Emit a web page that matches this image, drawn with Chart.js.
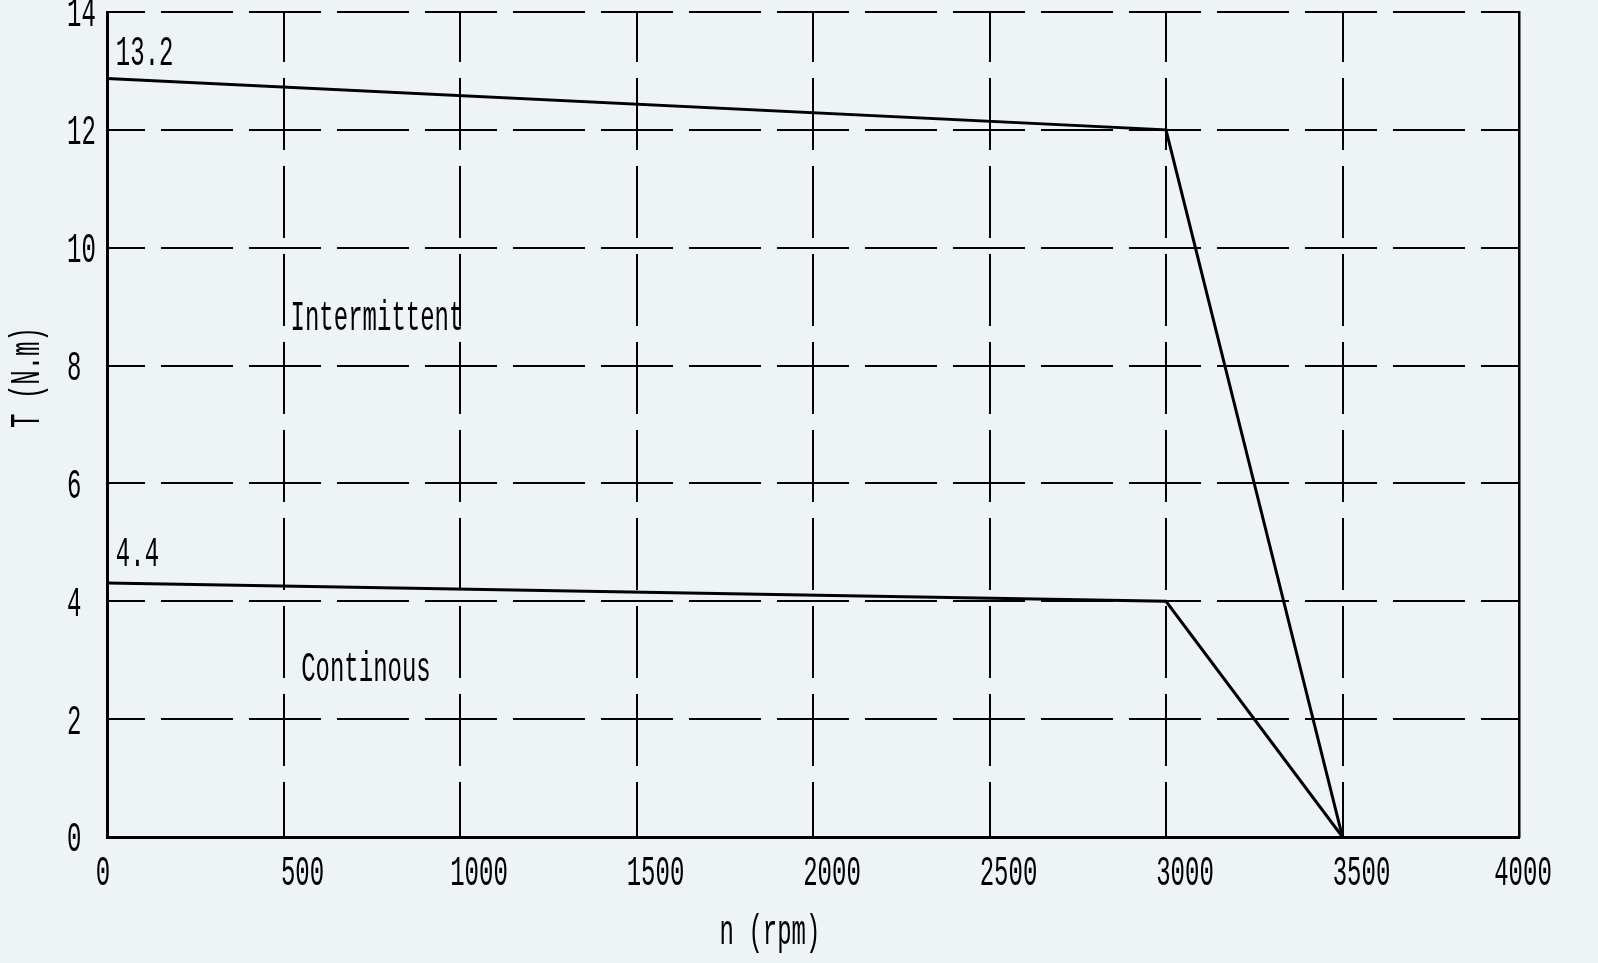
<!DOCTYPE html>
<html>
<head>
<meta charset="utf-8">
<title>T-n curve</title>
<script src="https://cdn.jsdelivr.net/npm/chart.js@4.4.1/dist/chart.umd.min.js"></script>
<style>
  html, body { margin: 0; padding: 0; background: #eef3f6; }
  #wrap { position: relative; width: 1598px; height: 963px; }
</style>
</head>
<body>
<div id="wrap"><canvas id="my-chart"></canvas></div>
<script>
'use strict';

//***********Data***********
let rpmPoints = [0, 3000, 3500];
let intermittentTorque = [12.87, 12, 0];
let continuousTorque = [4.31, 4, 0];

let xTicks = [0, 500, 1000, 1500, 2000, 2500, 3000, 3500, 4000];
let yTicks = [0, 2, 4, 6, 8, 10, 12, 14];

let xTitle = 'n (rpm)';
let yTitle = 'T (N.m)';

// notes written inside the plot, placed in data units
let noteText = ['13.2', '4.4', 'Intermittent', 'Continous'];
let noteRpm = [25, 25, 520, 550];
let noteTorque = [13.35, 4.84, 8.85, 2.89];

//***********Text helpers***********
// the original font is a tall, narrow half-width serif, so stretch a mono font upward
const FONT = '24px "Liberation Mono", "DejaVu Sans Mono", monospace';
const STRETCH = 1.8;

function tallText(ctx, str, x, y, align, rotate) {
  ctx.save();
  ctx.translate(x, y);
  if (rotate) ctx.rotate(-Math.PI / 2);
  ctx.scale(1, STRETCH);
  ctx.font = FONT;
  ctx.fillStyle = '#000';
  ctx.textAlign = align;
  ctx.textBaseline = 'alphabetic';
  ctx.fillText(str, 0, 8); // 8 = half the digit height, keeps y as the centre
  ctx.restore();
}

let textPlugin = {
  id: 'tallText',
  afterDraw(chart) {
    let ctx = chart.ctx;
    let xs = chart.scales.x;
    let ys = chart.scales.y;
    let area = chart.chartArea;

    for (let i = 0; i < yTicks.length; i++) {
      tallText(ctx, String(yTicks[i]), area.left - 40, ys.getPixelForValue(yTicks[i]), 'left');
    }
    for (let i = 0; i < xTicks.length; i++) {
      let shift = 19;
      if (i === 0) shift = -4;
      if (i === xTicks.length - 1) shift = 4;
      tallText(ctx, String(xTicks[i]), xs.getPixelForValue(xTicks[i]) + shift, area.bottom + 34, 'center');
    }
    tallText(ctx, xTitle, (area.left + area.right) / 2 - 43, area.bottom + 93, 'center');
    tallText(ctx, yTitle, 25, (area.top + area.bottom) / 2 - 47, 'center', true);

    for (let i = 0; i < noteText.length; i++) {
      tallText(ctx, noteText[i], xs.getPixelForValue(noteRpm[i]), ys.getPixelForValue(noteTorque[i]), 'left');
    }
  }
};

function toPoints(xs, ys) {
  let pts = [];
  for (let i = 0; i < xs.length; i++) {
    pts.push({ x: xs[i], y: ys[i] });
  }
  return pts;
}

//***********Chart***********
let ctx = document.getElementById('my-chart').getContext('2d');

let myChartObj = {
  type: 'line',
  data: {
    datasets: [{
      label: 'Intermittent',
      data: toPoints(rpmPoints, intermittentTorque),
      borderColor: '#000',
      borderWidth: 3,
      pointRadius: 0,
      tension: 0,
      fill: false
    },
    {
      label: 'Continous',
      data: toPoints(rpmPoints, continuousTorque),
      borderColor: '#000',
      borderWidth: 3,
      pointRadius: 0,
      tension: 0,
      fill: false
    }]
  },
  options: {
    responsive: true,
    maintainAspectRatio: false,
    animation: false,
    layout: {
      padding: { left: 107, top: 12, right: 79, bottom: 126 }
    },
    plugins: {
      legend: { display: false },
      tooltip: { enabled: false }
    },
    scales: {
      x: {
        type: 'linear',
        min: 0,
        max: 4000,
        afterBuildTicks: (scale) => { scale.ticks = xTicks.map(v => ({ value: v })); },
        ticks: { display: false },
        grid: { color: '#000', lineWidth: 2, drawTicks: false },
        border: { color: '#000', width: 3, dash: [72, 16], dashOffset: 22 }
      },
      y: {
        type: 'linear',
        min: 0,
        max: 14,
        afterBuildTicks: (scale) => { scale.ticks = yTicks.map(v => ({ value: v })); },
        ticks: { display: false },
        grid: { color: '#000', lineWidth: 2, drawTicks: false },
        border: { color: '#000', width: 3, dash: [72, 16], dashOffset: 36 }
      },
      y2: {
        type: 'linear',
        position: 'right',
        min: 0,
        max: 14,
        ticks: { display: false },
        grid: { drawOnChartArea: false, drawTicks: false },
        border: { color: '#000', width: 2.5 }
      }
    }
  },
  plugins: [textPlugin]
};

new Chart(ctx, myChartObj);
</script>
</body>
</html>
